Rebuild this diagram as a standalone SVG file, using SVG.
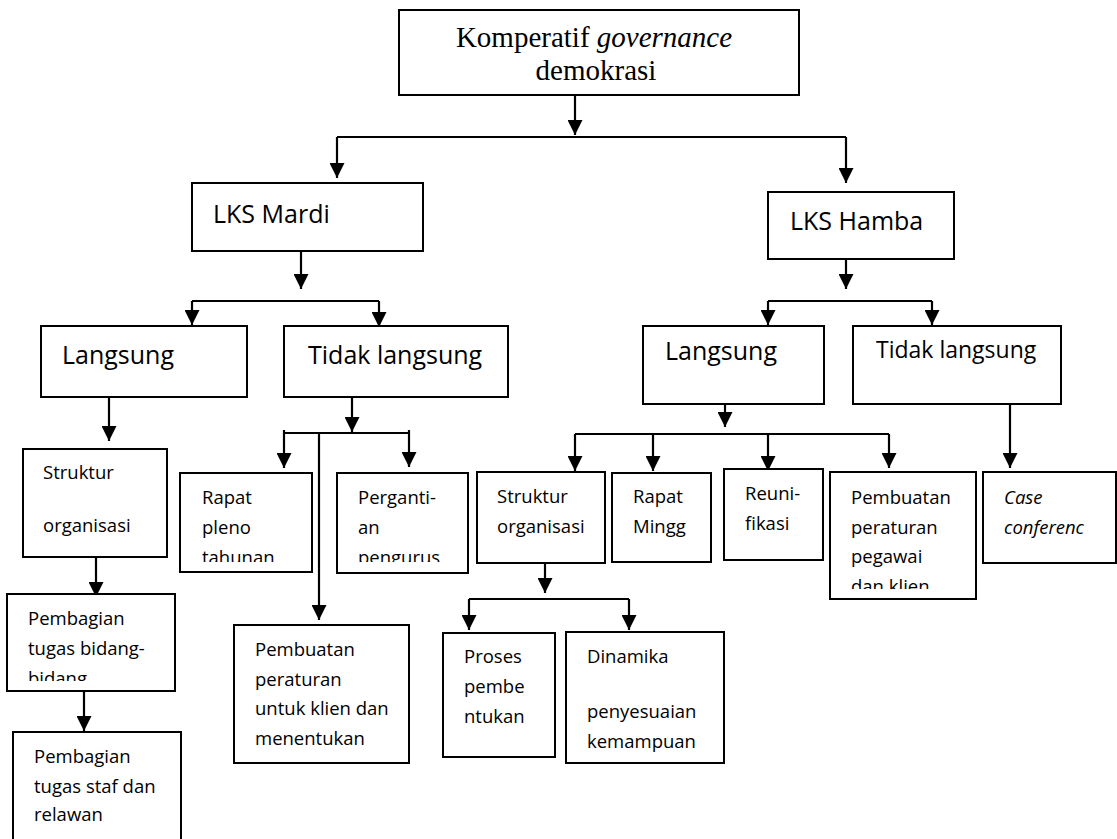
<svg xmlns="http://www.w3.org/2000/svg" width="1117" height="839" viewBox="0 0 1117 839">
<style>
.box{fill:#fff;stroke:#000;stroke-width:2}
.c{fill:none;stroke:#000;stroke-width:2.2;marker-end:url(#ah)}
.l{fill:none;stroke:#000;stroke-width:2.2}
.s{font-family:"Open Sans","Liberation Sans",sans-serif;font-size:18.5px;fill:#000}
.h{font-family:"Open Sans","Liberation Sans",sans-serif;font-size:25px;fill:#000}
.t{font-family:"Liberation Serif","Times New Roman",serif;font-size:29px;fill:#000}
</style>
<defs>
<marker id="ah" markerUnits="userSpaceOnUse" markerWidth="16" markerHeight="15" refX="15" refY="7.5" orient="auto">
<path d="M0,0 L15,7.5 L0,15 z" fill="#000"/>
</marker>
<clipPath id="c1"><rect x="0" y="600" width="200" height="81"/></clipPath>
<clipPath id="c2"><rect x="150" y="480" width="330" height="82"/></clipPath>
<clipPath id="c3"><rect x="830" y="480" width="150" height="109"/></clipPath>
</defs>

<g id="connectors">
<path class="c" d="M575,95 V135"/>
<path class="l" d="M337,137 H846"/>
<path class="c" d="M337,137 V178"/>
<path class="c" d="M846,137 V183"/>
<path class="c" d="M301,248 V289"/>
<polygon points="295,234 284,248 302,249" fill="#000"/>
<path class="l" d="M192,301 H379"/>
<path class="c" d="M192,301 V325"/>
<path class="c" d="M379,301 V327"/>
<path class="c" d="M109,397 V441"/>
<path class="c" d="M96,557 V597"/>
<path class="c" d="M84,691 V731"/>
<path class="c" d="M352,397 V432"/>
<path class="l" d="M284,433 H409"/>
<path class="c" d="M284,430 V468"/>
<path class="c" d="M409,430 V467"/>
<path class="c" d="M319,433 V620"/>
<path class="c" d="M846,259 V289"/>
<path class="l" d="M768,301 H932"/>
<path class="c" d="M768,301 V325"/>
<path class="c" d="M932,301 V325"/>
<path class="c" d="M725,404 V427"/>
<path class="l" d="M575,434 H889"/>
<path class="c" d="M575,434 V471"/>
<path class="c" d="M653,434 V471"/>
<path class="c" d="M768,434 V471"/>
<path class="c" d="M889,434 V468"/>
<path class="c" d="M1010,404 V468"/>
<path class="c" d="M545,560 V593"/>
<path class="l" d="M469,599 H629"/>
<path class="c" d="M469,599 V630"/>
<path class="c" d="M629,599 V630"/>
</g>

<g id="n-root">
<rect class="box" x="399" y="10" width="400" height="85"/>
<text class="t" x="594" y="47" text-anchor="middle">Komperatif <tspan font-style="italic">governance</tspan></text>
<text class="t" x="596" y="80" text-anchor="middle">demokrasi</text>
</g>

<g id="n-mardi">
<rect class="box" x="192" y="183" width="231" height="68"/>
<text class="h" x="213" y="223">LKS Mardi</text>
</g>

<g id="n-hamba">
<rect class="box" x="768" y="192" width="186" height="67"/>
<text class="h" x="790" y="230">LKS Hamba</text>
</g>

<g id="n-m-langsung">
<rect class="box" x="41" y="326" width="206" height="71"/>
<text class="h" x="62" y="364">Langsung</text>
</g>

<g id="n-m-tidak">
<rect class="box" x="284" y="326" width="224" height="71"/>
<text class="h" x="308" y="364">Tidak langsung</text>
</g>

<g id="n-h-langsung">
<rect class="box" x="643" y="326" width="181" height="78"/>
<text class="h" x="665" y="360">Langsung</text>
</g>

<g id="n-h-tidak">
<rect class="box" x="853" y="326" width="208" height="78"/>
<text class="h" x="876" y="358" style="font-size:23px">Tidak langsung</text>
</g>

<g id="n-m-struktur">
<rect class="box" x="23" y="449" width="144" height="108"/>
<text class="s" x="43" y="479">Struktur</text>
<text class="s" x="43" y="532">organisasi</text>
</g>

<g id="n-m-bidang">
<rect class="box" x="7" y="594" width="168" height="97"/>
<text class="s" x="28" y="625">Pembagian</text>
<text class="s" x="28" y="655">tugas bidang-</text>
<text class="s" x="28" y="685" clip-path="url(#c1)">bidang</text>
</g>

<g id="n-m-staf">
<rect class="box" x="13" y="732" width="168" height="120"/>
<text class="s" x="34" y="763">Pembagian</text>
<text class="s" x="34" y="793">tugas staf dan</text>
<text class="s" x="34" y="821">relawan</text>
</g>

<g id="n-m-rapat">
<rect class="box" x="180" y="473" width="132" height="99"/>
<text class="s" x="202" y="504">Rapat</text>
<text class="s" x="202" y="534">pleno</text>
<text class="s" x="202" y="564" clip-path="url(#c2)">tahunan</text>
</g>

<g id="n-m-pergantian">
<rect class="box" x="337" y="473" width="131" height="100"/>
<text class="s" x="358" y="504">Perganti-</text>
<text class="s" x="358" y="534">an</text>
<text class="s" x="358" y="564" clip-path="url(#c2)">pengurus</text>
</g>

<g id="n-m-peraturan">
<rect class="box" x="234" y="625" width="175" height="138"/>
<text class="s" x="255" y="656">Pembuatan</text>
<text class="s" x="255" y="686">peraturan</text>
<text class="s" x="255" y="715">untuk klien dan</text>
<text class="s" x="255" y="745">menentukan</text>
</g>

<g id="n-h-struktur">
<rect class="box" x="477" y="472" width="128" height="91"/>
<text class="s" x="497" y="503">Struktur</text>
<text class="s" x="497" y="533">organisasi</text>
</g>

<g id="n-h-rapat">
<rect class="box" x="612" y="473" width="99" height="89"/>
<text class="s" x="633" y="503">Rapat</text>
<text class="s" x="633" y="533">Mingg</text>
</g>

<g id="n-h-reuni">
<rect class="box" x="724" y="469" width="99" height="91"/>
<text class="s" x="745" y="500">Reuni-</text>
<text class="s" x="745" y="530">fikasi</text>
</g>

<g id="n-h-peraturan">
<rect class="box" x="830" y="472" width="146" height="127"/>
<text class="s" x="851" y="504">Pembuatan</text>
<text class="s" x="851" y="534">peraturan</text>
<text class="s" x="851" y="563">pegawai</text>
<text class="s" x="851" y="593" clip-path="url(#c3)">dan klien</text>
</g>

<g id="n-h-case">
<rect class="box" x="983" y="472" width="133" height="91"/>
<text class="s" x="1004" y="504" font-style="italic">Case</text>
<text class="s" x="1004" y="534" font-style="italic">conferenc</text>
</g>

<g id="n-h-proses">
<rect class="box" x="443" y="633" width="112" height="124"/>
<text class="s" x="464" y="663">Proses</text>
<text class="s" x="464" y="693">pembe</text>
<text class="s" x="464" y="723">ntukan</text>
</g>

<g id="n-h-dinamika">
<rect class="box" x="566" y="632" width="158" height="131"/>
<text class="s" x="587" y="663">Dinamika</text>
<text class="s" x="587" y="718">penyesuaian</text>
<text class="s" x="587" y="748">kemampuan</text>
</g>
</svg>
